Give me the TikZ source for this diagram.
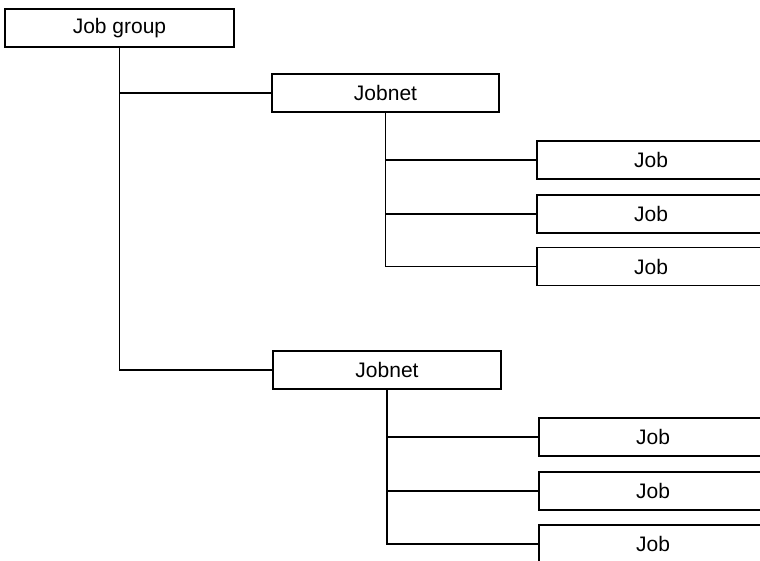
\documentclass[tikz,border=0pt]{standalone}
\usepackage{fontspec}
\setmainfont{Liberation Sans}
\begin{document}
\begin{tikzpicture}[x=1pt,y=-1pt,
  box/.style={draw, line width=1.5pt, minimum height=38pt, inner sep=0pt, font=\fontsize{21pt}{25pt}\selectfont},
  conn/.style={line width=1.5pt}]
\useasboundingbox (0,0) rectangle (760,560);
\clip (0,0) rectangle (760,560);
\node[box, minimum width=229pt] (g) at (119.5,28) {Job group};
\node[box, minimum width=227pt] (n1) at (385.5,93) {Jobnet};
\node[box, minimum width=228pt] (j1) at (651,160) {Job};
\node[box, minimum width=228pt] (j2) at (651,214) {Job};
\node[box, minimum width=228pt] (j3) at (651,266.5) {Job};
\node[box, minimum width=228pt] (n2) at (387,370) {Jobnet};
\node[box, minimum width=228pt] (k1) at (653,437) {Job};
\node[box, minimum width=228pt] (k2) at (653,491) {Job};
\node[box, minimum width=228pt] (k3) at (653,544) {Job};
\draw[conn] (g.south) |- (n1.west);
\draw[conn] (g.south) |- (n2.west);
\draw[conn] (n1.south) |- (j1.west);
\draw[conn] (n1.south) |- (j2.west);
\draw[conn] (n1.south) |- (j3.west);
\draw[conn] (n2.south) |- (k1.west);
\draw[conn] (n2.south) |- (k2.west);
\draw[conn] (n2.south) |- (k3.west);
\end{tikzpicture}
\end{document}
